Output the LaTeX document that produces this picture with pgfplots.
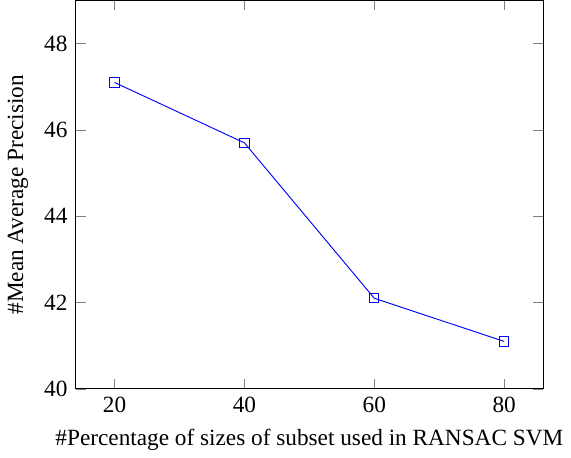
\documentclass[border=0pt]{standalone}
\usepackage{fontspec}
\setmainfont{Liberation Serif}
\usepackage{pgfplots}
\pgfplotsset{compat=1.18}
\begin{document}
\begin{tikzpicture}
\begin{axis}[
  scale only axis,
  width=201pt, height=167pt,
  xmin=14, xmax=86, ymin=40, ymax=49,
  xtick={20,40,60,80}, ytick={40,42,44,46,48},
  /pgf/number format/assume math mode=true,
  xlabel={\#Percentage of sizes of subset used in RANSAC SVM},
  ylabel={\#Mean Average Precision},
]
\addplot[blue, mark=square] coordinates {(20,47.1) (40,45.7) (60,42.1) (80,41.1)};
\end{axis}
\end{tikzpicture}
\end{document}
